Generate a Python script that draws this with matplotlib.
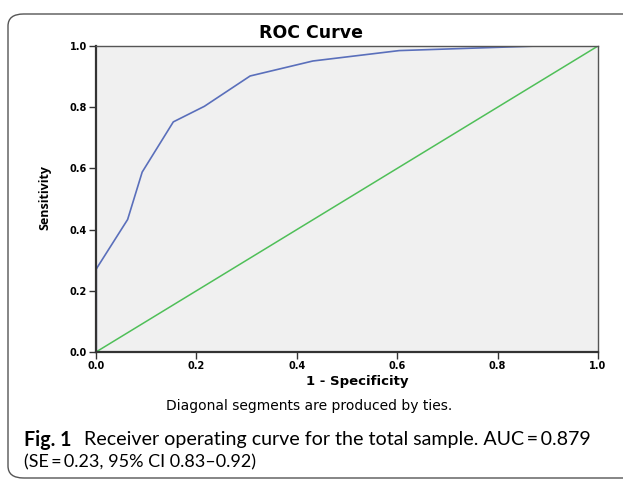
import matplotlib
matplotlib.use("Agg")
import matplotlib.pyplot as plt
from matplotlib.patches import FancyBboxPatch

# ROC points
fpr = [0.0, 0.0, 0.063, 0.092, 0.154, 0.216, 0.307, 0.432, 0.604, 0.88, 1.0]
tpr = [0.0, 0.27, 0.433, 0.588, 0.752, 0.803, 0.902, 0.951, 0.985, 1.0, 1.0]
ref_line = [0.0, 1.0]
ticks = [0.0, 0.2, 0.4, 0.6, 0.8, 1.0]

plt.rcParams['font.family'] = ['DejaVu Sans']

W, H = 623, 482
fig = plt.figure(figsize=(W / 100, H / 100), dpi=100)
renderer = fig.canvas.get_renderer()


def fit_width(txt, width_px):
    # scale the font so the text spans the given pixel width
    w = txt.get_window_extent(renderer).width
    txt.set_fontsize(txt.get_fontsize() * width_px / w)
    return txt.get_fontsize()


# rounded frame around figure + caption
frame = FancyBboxPatch((8 / W, 4 / H), 640 / W, 464 / H,
                       boxstyle="round,pad=0,rounding_size=0.025",
                       transform=fig.transFigure, facecolor='none',
                       edgecolor='#555555', linewidth=1.0, clip_on=False)
fig.patches.append(frame)

ax = fig.add_axes([96 / W, 1 - 352 / H, 502 / W, 306 / H])
ax.set_facecolor('#f0f0f0')
ax.plot(ref_line, ref_line, color='#4fbf58', linewidth=1.1)
ax.plot(fpr, tpr, color='#5a6fbb', linewidth=1.2)
ax.plot(fpr[:2], tpr[:2], color='#2a3570', linewidth=1.6)

ax.set_xlim(0, 1)
ax.set_ylim(0, 1)
ax.set_xticks(ticks)
ax.set_yticks(ticks)
ax.set_xticklabels([f"{t:.1f}" for t in ticks], fontweight='bold', fontsize=7)
ax.set_yticklabels([f"{t:.1f}" for t in ticks], fontweight='bold', fontsize=7)
ax.tick_params(direction='out', length=5, width=1, color='#333333', pad=1.5)
for side in ['left', 'bottom']:
    ax.spines[side].set_linewidth(1.6)
    ax.spines[side].set_color('#333333')
for side in ['top', 'right']:
    ax.spines[side].set_linewidth(1.0)
    ax.spines[side].set_color('#555555')

fig.text(311 / W, 1 - 33 / H, "ROC Curve", fontweight='bold', fontsize=12.5,
         ha='center', va='center')
fig.text(357 / W, 1 - 381 / H, "1 - Specificity", fontweight='bold',
         fontsize=9.5, ha='center', va='center')
fig.text(45 / W, 1 - 197 / H, "Sensitivity", fontweight='bold', fontsize=9,
         rotation=90, ha='center', va='center',
         family=['Open Sans', 'DejaVu Sans'], stretch='condensed')

fig.text(309 / W, 1 - 406 / H, "Diagonal segments are produced by ties.",
         ha='center', va='center', fontsize=10)

cap_font = ['Lato', 'DejaVu Sans']
line1 = fig.text(84 / W, 1 - 440 / H,
                 "Receiver operating curve for the total sample. AUC\u2009=\u20090.879",
                 family=cap_font, fontsize=12, ha='left', va='center')
cap_size = fit_width(line1, 505)
fig.text(24 / W, 1 - 440 / H, "Fig. 1", family=cap_font, fontweight='bold',
         fontsize=cap_size, ha='left', va='center')
line2 = fig.text(24 / W, 1 - 462 / H, "(SE\u2009=\u20090.23, 95% CI 0.83\u20130.92)",
                 family=cap_font, fontsize=cap_size, ha='left', va='center')
# Lato digits run wider than the original typeface: shrink only slightly
line2.set_fontsize(cap_size * 0.92)

fig.savefig("out.png", dpi=100)
